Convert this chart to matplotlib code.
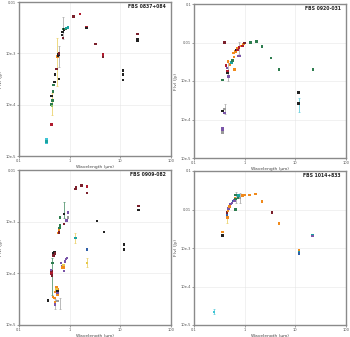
import numpy as np
import matplotlib
matplotlib.use("Agg")
import matplotlib.pyplot as plt

# SED panels: wavelength (um), flux (Jy), colour code per point
names = ["FBS 0837+084", "FBS 0920-031", "FBS 0909-082", "FBS 1014+833"]

C = {"k": "#222222", "r": "#b01c2e", "dr": "#7a1f2b", "g": "#2e7d4f", "t": "#1aa3a0",
     "c": "#3fc4d4", "o": "#f08a1c", "p": "#7a55a8", "y": "#e6c84a", "b": "#2f5fa8",
     "gr": "#9a9a9a", "lg": "#8fc56a"}

# --- FBS 0837+084
wl1 = [0.35, 0.35, 0.35, 0.35, 0.35, 0.435, 0.44, 0.44, 0.45, 0.46, 0.47, 0.48, 0.50, 0.52,
       0.55, 0.57, 0.59, 0.60, 0.62, 0.61, 0.70, 0.72, 0.73, 0.75, 0.78, 0.82, 0.86, 0.92,
       1.2, 1.6, 2.13, 2.15, 3.26, 4.55, 4.55, 4.55, 11.3, 11.3, 11.3, 21.7, 21.7, 21.7]
fx1 = [1.8e-5, 1.95e-5, 2.05e-5, 2.15e-5, 1.9e-5, 4.1e-5, 1.48e-4, 1.0e-4, 9.5e-5, 1.2e-4,
       1.8e-4, 2.4e-4, 2.8e-4, 3.9e-4, 5e-4, 8.6e-4, 9e-4, 9.5e-4, 3.2e-4, 1.0e-3, 2.3e-3,
       2.6e-3, 2.0e-3, 3.0e-3, 2.9e-3, 3.0e-3, 3.1e-3, 3.2e-3,
       5.2e-3, 5.9e-3, 3.3e-3, 3.1e-3, 1.5e-3, 0.95e-3, 0.9e-3, 0.85e-3,
       4.6e-4, 3.9e-4, 3.0e-4, 2.4e-3, 1.85e-3, 1.75e-3]
cl1 = ["c", "c", "c", "c", "t", "r", "k", "g", "lg", "g", "g", "g", "k", "k", "dr", "o", "k", "k",
       "k", "dr", "k", "k", "dr", "g", "k", "g", "t", "t",
       "dr", "r", "r", "k", "dr", "r", "r", "dr", "k", "k", "k", "dr", "k", "k"]
eb1 = [(0.44, 1.0e-4, 6.3e-5, 1.7e-4, "y"), (0.57, 8.6e-4, 2.3e-4, 2.0e-3, "y"),
       (0.61, 1.0e-3, 5.5e-4, 1.4e-3, "gr"), (0.75, 3.0e-3, 1.9e-3, 5.0e-3, "gr")]

# --- FBS 0920-031
wl2 = [0.403, 0.363, 0.363, 0.40, 0.40, 0.363, 0.363, 0.363, 0.43, 0.45, 0.46, 0.46, 0.48,
       0.47, 0.52, 0.55, 0.58, 0.62, 0.60, 0.63, 0.66, 0.68, 0.72, 0.73, 0.72, 0.78, 0.80,
       0.85, 0.90, 0.95, 1.0, 1.31, 1.70, 2.2, 3.3, 4.7, 22.3, 11.6, 11.6]
fx2 = [1.0e-2, 1.06e-3, 1.64e-4, 1.9e-4, 1.5e-4, 6.1e-5, 5.2e-5, 4.6e-5, 2.5e-3, 2.2e-3,
       1.8e-3, 1.6e-3, 1.3e-3, 3.2e-3, 2.7e-3, 3.0e-3, 3.4e-3, 4.2e-3, 5.4e-3, 2.0e-3,
       5.9e-3, 6.3e-3, 6.6e-3, 4.4e-3, 7.2e-3, 7.4e-3, 4.4e-3, 8.0e-3, 8.2e-3, 9.0e-3,
       9.8e-3, 1.0e-2, 1.06e-2, 7.9e-3, 3.9e-3, 2.0e-3, 2.0e-3, 5.0e-4, 2.6e-4]
cl2 = ["dr", "g", "k", "gr", "p", "p", "p", "gr", "r", "p", "r", "k", "p", "o", "o", "t", "g",
       "o", "o", "o", "o", "k", "r", "p", "o", "r", "p", "o", "r", "o", "dr",
       "g", "g", "g", "g", "g", "g", "k", "k"]
eb2 = [(0.40, 1.9e-4, 1.4e-4, 2.6e-4, "gr"), (0.46, 1.8e-3, 1.0e-3, 3.4e-3, "gr"),
       (0.78, 7.4e-3, 5.0e-3, 1.05e-2, "gr"), (11.6, 2.6e-4, 1.6e-4, 3.6e-4, "c")]

# --- FBS 0909-082
wl3 = [0.37, 0.44, 0.44, 0.45, 0.43, 0.46, 0.47, 0.48, 0.50, 0.52, 0.47, 0.50, 0.52, 0.52,
       0.55, 0.55, 0.57, 0.58, 0.58, 0.52, 0.55, 0.58, 0.58, 0.60, 0.61, 0.62, 0.63, 0.65,
       0.62, 0.65, 0.68, 0.70, 0.72, 0.75, 0.77, 0.78, 0.80, 0.85, 0.88, 0.77, 0.78, 0.86,
       0.92, 0.93, 1.3, 1.33, 1.7, 2.2, 2.2, 1.3, 2.2, 2.2, 3.5, 4.8, 11.8, 11.8, 23, 23]
fx3 = [3e-5, 1.1e-4, 1.0e-4, 9.0e-5, 1.15e-4, 1.6e-4, 2.5e-4, 2.2e-4, 2.6e-4, 2.4e-4,
       3.5e-5, 3.3e-5, 2.8e-5, 2.5e-5, 4.8e-5, 5.3e-5, 4.9e-5, 4.5e-5, 4.1e-5, 4.4e-5, 5.0e-5,
       3.8e-5, 2.9e-5, 6.0e-4, 6.7e-4, 7.0e-4, 7.6e-4, 8.5e-4, 6.2e-4, 1.2e-3, 1.6e-4,
       1.4e-4, 1.3e-4, 1.45e-4, 1.3e-4, 1.1e-4, 1.7e-4, 1.9e-4, 2.0e-4,
       9.0e-4, 1.4e-3, 1.05e-3, 1.2e-3, 1.5e-3, 4.3e-3, 4.6e-3, 5.0e-3, 4.8e-3, 3.6e-3,
       4.8e-4, 2.9e-4, 1.6e-4, 1.03e-3, 6.3e-4, 3.6e-4, 2.9e-4, 2.0e-3, 1.7e-3]
cl3 = ["k", "dr", "r", "dr", "p", "g", "k", "dr", "k", "dr", "o", "o", "o", "p", "y", "o",
       "o", "k", "p", "o", "y", "o", "gr", "o", "dr", "o", "g", "g", "dr", "g", "p", "p",
       "o", "y", "o", "p", "p", "p", "p", "dr", "k", "p", "gr", "p", "dr", "dr", "dr", "r",
       "dr", "t", "b", "y", "k", "k", "k", "k", "dr", "k"]
eb3 = [(0.45, 1.6e-4, 3.8e-5, 2.0e-4, "g"), (0.52, 2.5e-5, 2.0e-5, 3.2e-5, "gr"),
       (0.65, 2.6e-5, 2.0e-5, 3.4e-5, "gr"), (0.78, 1.6e-3, 1.2e-3, 2.4e-3, "g"),
       (1.3, 4.8e-4, 3.8e-4, 6.0e-4, "y"), (2.2, 1.6e-4, 1.3e-4, 1.95e-4, "y")]

# --- FBS 1014+833
wl4 = [0.245, 0.363, 0.363, 0.445, 0.455, 0.45, 0.47, 0.48, 0.50, 0.53, 0.56, 0.60, 0.63,
       0.65, 0.66, 0.66, 0.66, 0.75, 0.76, 0.80, 0.90, 1.0, 1.25, 1.65, 2.2, 3.46, 4.7,
       11.8, 11.8, 11.8, 22, 22]
fx4 = [2.2e-5, 2.6e-3, 2.1e-3, 7.5e-3, 6.2e-3, 8.4e-3, 9.4e-3, 1.05e-2, 1.2e-2, 1.4e-2,
       1.5e-2, 1.65e-2, 1.7e-2, 2.0e-2, 2.4e-2, 1.9e-2, 1.0e-2, 2.3e-2, 2.0e-2, 2.0e-2,
       2.3e-2, 2.35e-2, 2.4e-2, 2.5e-2, 1.6e-2, 8.4e-3, 4.3e-3, 8.7e-4, 7.8e-4, 7.2e-4,
       2.2e-3, 2.05e-3]
cl4 = ["c", "o", "k", "b", "o", "dr", "o", "p", "o", "p", "p", "b", "p", "o", "g", "g", "g",
       "t", "g", "gr", "o", "o", "o", "o", "o", "dr", "o", "o", "t", "b", "t", "p"]
eb4 = [(0.245, 2.2e-5, 1.9e-5, 2.6e-5, "c"), (0.455, 6.2e-3, 4.5e-3, 9.0e-3, "y"),
       (0.66, 2.0e-2, 1.5e-2, 2.8e-2, "gr"), (0.80, 2.0e-2, 1.5e-2, 2.7e-2, "gr")]

panels = [(wl1, fx1, cl1, eb1, 1e-5, 1e-2), (wl2, fx2, cl2, eb2, 1e-5, 1e-1),
          (wl3, fx3, cl3, eb3, 1e-5, 1e-2), (wl4, fx4, cl4, eb4, 1e-5, 1e-1)]

W, H = 350, 337
fig = plt.figure(figsize=(W / 100, H / 100), dpi=100)
fig.patch.set_facecolor("white")

boxes = [(19, 2, 152, 154), (194, 4, 152, 154), (19, 170, 152, 155), (194, 171, 152, 154)]


def ylab(v):
    if v >= 0.01:
        return "%g" % v
    return "10e%d" % int(round(np.log10(v)))


for (wl, fx, cl, eb, ylo, yhi), (x0, y0, w, h), name in zip(panels, boxes, names):
    ax = fig.add_axes([x0 / W, 1 - (y0 + h) / H, w / W, h / H])
    ax.set_xscale("log")
    ax.set_yscale("log")
    ax.set_xlim(0.1, 100)
    ax.set_ylim(ylo, yhi)

    for ex, ey, lo, hi, c in eb:
        ax.errorbar([ex], [ey], yerr=[[ey - lo], [hi - ey]], fmt="none",
                    ecolor=C[c], elinewidth=0.6, capsize=1.0, capthick=0.5, alpha=0.8, zorder=2)
    ax.scatter(wl, fx, c=[C[c] for c in cl], marker="s", s=3.0, linewidths=0, zorder=3)

    xt = [0.1, 1, 10, 100]
    ax.set_xticks(xt)
    ax.set_xticklabels(["0.1", "1", "10", "100"])
    yt = [10.0 ** e for e in range(int(np.log10(ylo)), int(np.log10(yhi)) + 1)]
    ax.set_yticks(yt)
    ax.set_yticklabels([ylab(v) for v in yt])
    ax.minorticks_off()
    ax.tick_params(labelsize=2.6, length=1.2, width=0.4, pad=0.8, colors="#555555")
    ax.grid(True, color="#e6e6e6", lw=0.4)
    ax.set_axisbelow(True)
    for s in ax.spines.values():
        s.set_color("#8a8a8a")
        s.set_linewidth(1.0)

    ax.set_xlabel("Wavelength (μm)", fontsize=3.2, labelpad=1.5, color="#444444")
    ax.set_ylabel("F(ν) (Jy)", fontsize=3.2, labelpad=2, color="#444444")
    ax.text(0.965, 0.985, name, transform=ax.transAxes, ha="right", va="top",
            fontsize=3.3, fontweight="bold", color="#222222", zorder=5,
            bbox=dict(facecolor="white", edgecolor="none", pad=0.5))

fig.savefig("out.png", dpi=100, facecolor="white")
